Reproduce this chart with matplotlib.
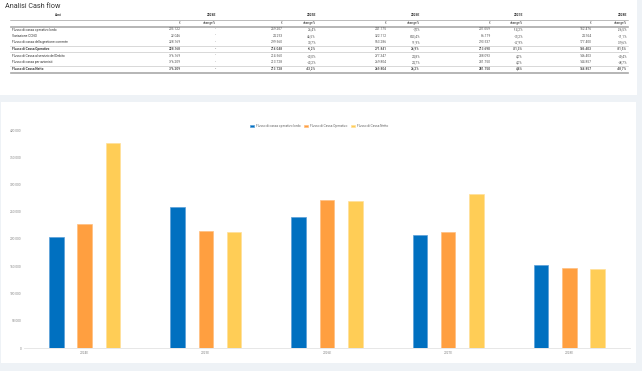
import matplotlib
matplotlib.use('Agg')
import matplotlib.pyplot as plt
from matplotlib.patches import Rectangle
from matplotlib.lines import Line2D
import numpy as np

plt.rcParams['font.family'] = ['Roboto', 'DejaVu Sans']

years = ['2024E', '2025E', '2026E', '2027E', '2028E']

row_labels = ['Flusso di cassa operativo lordo',
              'Variazione CCNO',
              'Flusso di cassa della gestione corrente',
              'Flusso di Cassa Operativo',
              'Flusso di Cassa al servizio del Debito',
              'Flusso di cassa per azionisti',
              'Flusso di Cassa Netto']
bold_rows = [3, 6]

lordo = [203122, 259207, 241175, 207059, 152476]
ccno = [22046, 24253, 322112, 86179, 24924]
corrente = [228169, 299560, 563286, 293537, 177400]
operativo = [228168, 214048, 271841, 213690, 146403]
debito = [376169, 214560, 277347, 288093, 146403]
azionisti = [376209, 213728, 269804, 281750, 144857]
netto = [376209, 213728, 269804, 281750, 144857]

ch_lordo = ['-', '26,4%', '-7,0%', '-14,2%', '-26,5%']
ch_ccno = ['-', '46,5%', '843,4%', '-73,2%', '-71,1%']
ch_corrente = ['-', '30,7%', '91,9%', '-47,9%', '-39,6%']
ch_operativo = ['-', '-6,2%', '26,9%', '-21,3%', '-31,5%']
ch_debito = ['-', '-43,0%', '24,8%', '4,0%', '-49,4%']
ch_azionisti = ['-', '-43,2%', '24,7%', '4,0%', '-48,7%']
ch_netto = ['-', '-43,2%', '26,2%', '4,4%', '-48,7%']

table_vals = [lordo, ccno, corrente, operativo, debito, azionisti, netto]
table_chg = [ch_lordo, ch_ccno, ch_corrente, ch_operativo, ch_debito, ch_azionisti, ch_netto]

series_names = ['Flusso di cassa operativo lordo', 'Flusso di Cassa Operativo', 'Flusso di Cassa Netto']
series_vals = [lordo, operativo, netto]
colors = ['#0070c0', '#ff9f40', '#ffcd56']
edges = ['#5a9fd8', '#ffbf80', '#ffe09a']

W, H = 642, 371
fig = plt.figure(figsize=(W/100, H/100), dpi=100)
fig.patch.set_facecolor('#eef2f6')

def fx(x): return x / W
def fy(y): return 1 - y / H

# backgrounds
fig.patches.append(Rectangle((0, fy(95)), fx(637), 95/H, transform=fig.transFigure,
                             facecolor='white', edgecolor='none', zorder=-5))
fig.patches.append(Rectangle((fx(1), fy(363)), fx(635), 261/H, transform=fig.transFigure,
                             facecolor='white', edgecolor='none', zorder=-5))

def fmt(v):
    return f'{v:,}'.replace(',', '.')

# title + table
fig.text(fx(5), fy(7), 'Analisi Cash flow', fontsize=5.2, color='#333333', va='center', ha='left')

tcol = '#333333'
fs = 2.3
val_right = [181, 283, 387, 491, 592]
chg_right = [216, 316, 420, 523, 627]

fig.text(fx(58), fy(15.5), 'Anni', fontsize=fs, weight='bold', ha='center', va='center', color=tcol)
for i, yr in enumerate(years):
    fig.text(fx(chg_right[i]), fy(15.5), yr, fontsize=fs, weight='bold', ha='right', va='center', color=tcol)
    fig.text(fx(val_right[i]), fy(23.3), '€', fontsize=fs, ha='right', va='center', color=tcol)
    fig.text(fx(chg_right[i]), fy(23.3), 'change%', fontsize=fs, ha='right', va='center', color=tcol)

row_y = [29.5, 35.7, 42.2, 49, 55.6, 62.2, 69]
for r, lab in enumerate(row_labels):
    w = 'bold' if r in bold_rows else 'normal'
    fig.text(fx(12), fy(row_y[r]), lab, fontsize=fs, weight=w, ha='left', va='center', color=tcol)
    for i in range(len(years)):
        fig.text(fx(val_right[i]), fy(row_y[r]), fmt(table_vals[r][i]), fontsize=fs, weight=w,
                 ha='right', va='center', color='#555555')
        fig.text(fx(chg_right[i]), fy(row_y[r]), table_chg[r][i], fontsize=fs, weight=w,
                 ha='right', va='center', color='#555555')

def hline(y, lw, c):
    fig.add_artist(Line2D([fx(10), fx(628)], [fy(y), fy(y)], lw=lw, color=c, transform=fig.transFigure))

hline(19.8, 0.4, '#888888')
hline(26.3, 0.5, '#999999')
hline(27.0, 0.5, '#999999')
hline(45.6, 0.4, '#bbbbbb')
hline(52.4, 0.4, '#bbbbbb')
hline(65.8, 0.4, '#bbbbbb')
hline(72.3, 0.5, '#999999')
hline(73.0, 0.5, '#999999')

# chart
ax = fig.add_axes([fx(24), fy(348), fx(630) - fx(24), fy(130) - fy(348)])
ax.set_facecolor('none')
x = np.arange(len(years))
bw = 0.12
offs = [-0.234, 0, 0.234]
for k in range(3):
    ax.bar(x + offs[k], series_vals[k], width=bw, color=colors[k], edgecolor=edges[k],
           linewidth=0.5, label=series_names[k], zorder=2)

ax.set_xlim(-0.5, len(years) - 0.5)
ax.set_ylim(0, 400000)
ax.set_yticks(np.arange(0, 400001, 50000))
ax.set_yticklabels([fmt(int(v)) if v else '0' for v in np.arange(0, 400001, 50000)])
ax.set_xticks(x)
ax.set_xticklabels(years)
ax.tick_params(axis='both', length=0, labelsize=2.3, labelcolor='#888888', pad=2)
for s in ['top', 'right', 'left']:
    ax.spines[s].set_visible(False)
ax.spines['bottom'].set_color('#e3e3e3')
ax.spines['bottom'].set_linewidth(0.6)

fig.legend(loc='center', bbox_to_anchor=(fx(319), fy(126)), ncol=3, frameon=False,
           fontsize=2.3, handlelength=1.35, handleheight=0.95, columnspacing=1.2,
           handletextpad=0.5, labelcolor='#666666')

fig.savefig('out.png', dpi=100, facecolor=fig.get_facecolor())
